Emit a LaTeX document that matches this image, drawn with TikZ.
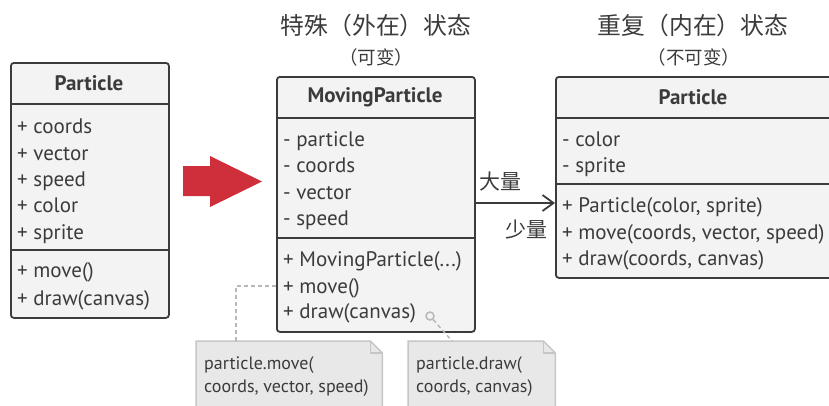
\documentclass[tikz,border=0pt]{standalone}
\usepackage{fontspec}
\setmainfont{PT Sans}
\newfontfamily\cjk{Noto Sans CJK SC}
\usetikzlibrary{arrows.meta}
\definecolor{ink}{HTML}{3B3B3B}
\definecolor{boxfill}{HTML}{F3F3F3}
\definecolor{notefill}{HTML}{E8E8E8}
\definecolor{noteline}{HTML}{C6C6C6}
\definecolor{conn}{HTML}{B8B8B8}
\definecolor{redarrow}{HTML}{CF2F3A}
\tikzset{
  umlbox/.style={draw=ink, fill=boxfill, line width=1.8pt, rounded corners=3pt, anchor=north west, inner sep=0pt},
  divider/.style={draw=ink, line width=1.8pt},
  hdr/.style={font=\fontsize{21}{23}\selectfont\bfseries, text=ink, inner sep=0pt},
  txt/.style={font=\fontsize{21}{23}\selectfont, text=ink, inner sep=0pt, anchor=base west},
  notetxt/.style={font=\fontsize{18}{20}\selectfont, text=ink, inner sep=0pt, anchor=base west},
  titletxt/.style={font=\fontsize{23.8}{26}\selectfont\cjk, text=ink, inner sep=0pt},
  subtxt/.style={font=\fontsize{18.5}{20}\selectfont\cjk, text=ink, inner sep=0pt},
  multtxt/.style={font=\fontsize{21}{22}\selectfont\cjk, text=ink, inner sep=0pt},
  notebox/.style={anchor=north west, inner sep=0pt},
  noteshape/.style={draw=noteline, fill=notefill, line width=1.5pt},
  dashconn/.style={draw=conn, line width=1.5pt, dash pattern=on 4pt off 3pt},
  assoc/.style={draw=ink, line width=1.8pt, -{Straight Barb[length=11pt,width=16pt,line width=1.8pt]}}
}
\begin{document}
\begin{tikzpicture}[x=1pt,y=-1pt]
\useasboundingbox (0,0) rectangle (829,405);
\clip (0,0) rectangle (829,405);

% ---------- left Particle ----------
\node[umlbox, minimum width=158pt, minimum height=255pt] (p1) at (10,62) {};
\draw[divider] (p1.west |- 0,104) -- (p1.east |- 0,104);
\draw[divider] (p1.west |- 0,250) -- (p1.east |- 0,250);
\node[hdr] (p1h) at (89,83) {Particle};
\node[txt] (p1a) at (17,133) {+ coords};
\node[txt] (p1b) at (17,160) {+ vector};
\node[txt] (p1c) at (17,186) {+ speed};
\node[txt] (p1d) at (17,212) {+ color};
\node[txt] (p1e) at (17,239) {+ sprite};
\node[txt] (p1f) at (17,277) {+ move()};
\node[txt] (p1g) at (17,305) {+ draw(canvas)};

% ---------- red arrow ----------
\fill[redarrow] (183,166) -- (210,166) -- (210,156) -- (262,181.5) -- (210,207) -- (210,196) -- (183,196) -- cycle;

% ---------- titles ----------
\node[titletxt] (t1) at (376,25) {特殊（外在）状态};
\node[subtxt] (s1) at (376,57) {（可变）};
\node[titletxt] (t2) at (693,25) {重复（内在）状态};
\node[subtxt] (s2) at (694,57) {（不可变）};

% ---------- MovingParticle ----------
\node[umlbox, minimum width=198pt, minimum height=255pt] (mp) at (276,76) {};
\draw[divider] (mp.west |- 0,118) -- (mp.east |- 0,118);
\draw[divider] (mp.west |- 0,238) -- (mp.east |- 0,238);
\node[hdr] (mph) at (375,97) {MovingParticle};
\node[txt] (mpa) at (283,146) {- particle};
\node[txt] (mpb) at (283,172) {- coords};
\node[txt] (mpc) at (283,199) {- vector};
\node[txt] (mpd) at (283,225) {- speed};
\node[txt] (mpe) at (283,266) {+ MovingParticle(...)};
\node[txt] (mpf) at (283,293) {+ move()};
\node[txt] (mpg) at (283,318) {+ draw(canvas)};

% ---------- right Particle ----------
\node[umlbox, minimum width=285pt, minimum height=201pt] (rp) at (555,76) {};
\draw[divider] (rp.west |- 0,118) -- (rp.east |- 0,118);
\draw[divider] (rp.west |- 0,184) -- (rp.east |- 0,184);
\node[hdr] (rph) at (693,97) {Particle};
\node[txt] (rpa) at (562,146) {- color};
\node[txt] (rpb) at (562,172) {- sprite};
\node[txt] (rpc) at (562,212) {+ Particle(color, sprite)};
\node[txt] (rpd) at (562,239) {+ move(coords, vector, speed)};
\node[txt] (rpe) at (562,265) {+ draw(coords, canvas)};

% ---------- association ----------
\coordinate (aStart) at (mp.east |- 0,203);
\coordinate (aEnd) at (rp.west |- 0,203);
\draw[assoc] (aStart) -- (aEnd);
\node[multtxt] (many) at (500,182) {大量};
\node[multtxt] (few) at (526,230) {少量};

% ---------- notes ----------
\node[notebox, minimum width=186pt, minimum height=75pt] (n1) at (196,341) {};
\path[noteshape] (n1.south west) -- (n1.north west) -- ([xshift=-12pt]n1.north east) -- ([yshift=-12pt]n1.north east) -- (n1.south east);
\draw[noteline, line width=1.5pt] ([xshift=-12pt]n1.north east) -- ([xshift=-12pt,yshift=-12pt]n1.north east) -- ([yshift=-12pt]n1.north east);
\node[notetxt] (n1a) at (204,369) {particle.move(};
\node[notetxt] (n1b) at (204,392) {coords, vector, speed)};

\node[notebox, minimum width=147pt, minimum height=75pt] (n2) at (408,341) {};
\path[noteshape] (n2.south west) -- (n2.north west) -- ([xshift=-12pt]n2.north east) -- ([yshift=-12pt]n2.north east) -- (n2.south east);
\draw[noteline, line width=1.5pt] ([xshift=-12pt]n2.north east) -- ([xshift=-12pt,yshift=-12pt]n2.north east) -- ([yshift=-12pt]n2.north east);
\node[notetxt] (n2a) at (416,369) {particle.draw(};
\node[notetxt] (n2b) at (416,392) {coords, canvas)};

% ---------- note connectors ----------
\coordinate (c1) at ([xshift=40pt]n1.north west);
\coordinate (c1m) at (mp.west |- 0,286);
\draw[dashconn] (c1) |- (c1m);
\node[circle, draw=conn, line width=1.5pt, minimum size=8pt, inner sep=0pt] (dot) at (430,316) {};
\coordinate (c2) at ([xshift=44pt]n2.north west);
\draw[dashconn] (dot) -- (c2);
\end{tikzpicture}
\end{document}
